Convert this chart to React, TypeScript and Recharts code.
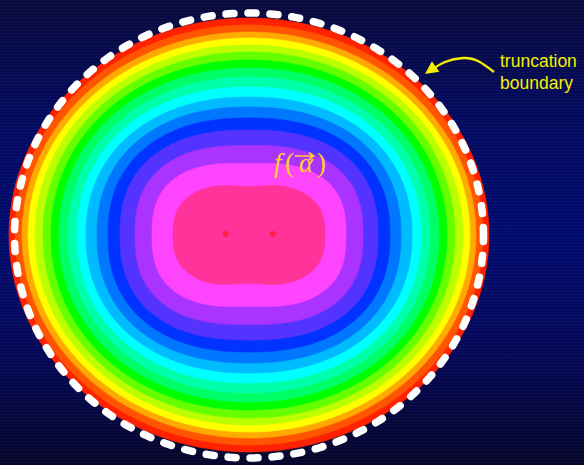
import React from 'react';
import { ScatterChart, Scatter, XAxis, YAxis } from 'recharts';

const W = 584;
const H = 465;

// Contour levels, outermost first
const levelColors = [
  '#ff2200', '#ff5500', '#ffaa00', '#ffff00', '#bbff00', '#66ff00', '#00ff00', '#00ff66', '#00ffaa',
  '#00ffff', '#00bbff', '#0077ff', '#0033ff', '#5533ff', '#aa33ff', '#ff44ff', '#ff3399',
];
const levelHalfWidths = [240, 234, 227, 221, 214, 206, 198, 190, 181, 172, 163, 152, 141, 129, 114, 97, 76];
const levelHalfHeights = [217, 210, 203, 197, 190, 183, 175, 167, 158, 148, 138, 128, 117, 105, 90, 73, 52];
const levelSquareness = [2.0, 2.0, 2.0, 2.0, 2.02, 2.04, 2.06, 2.08, 2.1, 2.14, 2.18, 2.24, 2.3, 2.4, 2.5, 2.65, 2.6];
const levelWaist = [0, 0, 0, 0, 0, 0, 0, 0, 0, 0, 0, 0, 0, 0, 0.005, 0.02, 0.07];

// Truncation boundary (ellipse)
const boundaryHalfWidth = 234.5;
const boundaryHalfHeight = 222.5;
const boundaryCenterY = -0.5;

// Two minima of f
const minima = [
  { x: -23.5, y: 1 },
  { x: 23.5, y: 1 },
];

// Annotations
const fLabel = [{ x: 25, y: 63 }];
const truncLabel = [{ x: 251, y: 168, line1: 'truncation', line2: 'boundary' }];
const arrowCurve = [
  { x: 245, y: 163 },
  { x: 229, y: 174 },
  { x: 214, y: 177 },
  { x: 196, y: 173 },
  { x: 181, y: 164 },
];
const arrowTip = [{ x: 176, y: 161 }];

const X_DOMAIN: [number, number] = [-249, 335];
const Y_DOMAIN: [number, number] = [-230, 235];

function outline(a: number, b: number, n: number, waist: number, cy = 0, count = 240) {
  const pts: { x: number; y: number }[] = [];
  for (let i = 0; i < count; i++) {
    const t = (i / count) * 2 * Math.PI;
    const c = Math.cos(t);
    const s = Math.sin(t);
    const x = a * Math.sign(c) * Math.pow(Math.abs(c), 2 / n);
    let y = b * Math.sign(s) * Math.pow(Math.abs(s), 2 / n);
    y *= 1 - waist * Math.exp(-Math.pow(x / (a * 0.35), 2));
    pts.push({ x, y: y + cy });
  }
  return pts;
}

const Empty = () => <g />;

export default function App() {
  const bands = levelColors.map((color, i) => ({
    color,
    points: outline(levelHalfWidths[i], levelHalfHeights[i], levelSquareness[i], levelWaist[i]),
  }));
  const boundary = outline(boundaryHalfWidth, boundaryHalfHeight, 2, 0, boundaryCenterY, 360);

  return (
    <div
      style={{
        width: W,
        height: H,
        overflow: 'hidden',
        background:
          'repeating-linear-gradient(to bottom, rgba(255,255,255,0.03) 0px, rgba(255,255,255,0.03) 1px, rgba(0,0,0,0) 1px, rgba(0,0,0,0) 3px), linear-gradient(to bottom, #090a3c 0%, #030a5e 25%, #000b6e 50%, #040858 75%, #05052b 100%)',
      }}
    >
      <style>{'body{margin:0;}'}</style>
      <ScatterChart width={W} height={H} margin={{ top: 0, right: 0, bottom: 0, left: 0 }}>
        <XAxis type="number" dataKey="x" domain={X_DOMAIN} allowDataOverflow hide />
        <YAxis type="number" dataKey="y" domain={Y_DOMAIN} allowDataOverflow hide />
        {bands.map((b, i) => (
          <Scatter
            key={i}
            data={b.points}
            isAnimationActive={false}
            line={{ fill: b.color, stroke: b.color, strokeWidth: 0.6 }}
            lineType="joint"
            lineJointType="linearClosed"
            shape={Empty}
          />
        ))}
        <Scatter
          data={boundary}
          isAnimationActive={false}
          line={{
            fill: 'none',
            stroke: '#ffffff',
            strokeWidth: 7.5,
            strokeDasharray: '8 14',
            strokeLinecap: 'round',
          }}
          lineType="joint"
          lineJointType="linearClosed"
          shape={Empty}
        />
        <Scatter
          data={minima}
          isAnimationActive={false}
          shape={(p: any) => <circle cx={p.cx} cy={p.cy} r={3} fill="#ff2244" />}
        />
        <Scatter
          data={fLabel}
          isAnimationActive={false}
          shape={(p: any) => (
            <g fill="#ffd42a" fontFamily="'Liberation Serif', 'DejaVu Serif', serif" fontSize={27}>
              <text x={p.cx} y={p.cy} fontStyle="italic">f</text>
              <text x={p.cx + 11} y={p.cy}>(</text>
              <text x={p.cx + 25} y={p.cy} fontStyle="italic">α</text>
              <text x={p.cx + 43} y={p.cy}>)</text>
              <path
                d={`M${p.cx + 21} ${p.cy - 16} H${p.cx + 39} M${p.cx + 35} ${p.cy - 19.5} L${p.cx + 39.5} ${p.cy - 16} L${p.cx + 35} ${p.cy - 12.5}`}
                stroke="#ffd42a"
                strokeWidth={1.6}
                fill="none"
              />
            </g>
          )}
        />
        <Scatter
          data={arrowCurve}
          isAnimationActive={false}
          line={{ fill: 'none', stroke: '#f5f000', strokeWidth: 2.4 }}
          lineType="joint"
          lineJointType="natural"
          shape={Empty}
        />
        <Scatter
          data={arrowTip}
          isAnimationActive={false}
          shape={(p: any) => (
            <polygon
              points="0,0 13,-6.5 13,6.5"
              transform={`translate(${p.cx},${p.cy}) rotate(-35)`}
              fill="#f5f000"
            />
          )}
        />
        <Scatter
          data={truncLabel}
          isAnimationActive={false}
          shape={(p: any) => (
            <g fill="#f5f000" fontFamily="'Liberation Sans', Arial, sans-serif" fontSize={17.5}>
              <text x={p.cx} y={p.cy}>{p.payload.line1}</text>
              <text x={p.cx} y={p.cy + 22}>{p.payload.line2}</text>
            </g>
          )}
        />
      </ScatterChart>
    </div>
  );
}
